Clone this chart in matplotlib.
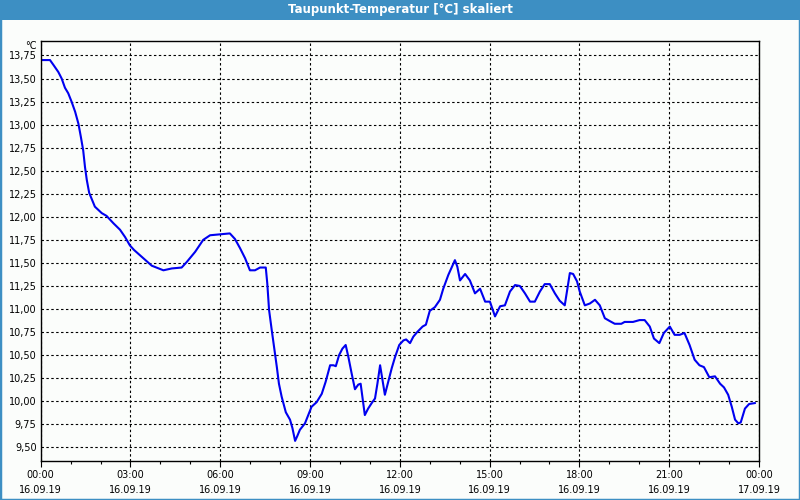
import matplotlib
matplotlib.use('Agg')
import matplotlib.pyplot as plt
from matplotlib.patches import Rectangle
from matplotlib.ticker import MultipleLocator

# Stunden seit 16.09.19 00:00
stunden = [0.00, 0.31, 0.42, 0.59, 0.70, 0.81, 0.92, 1.03, 1.15, 1.26, 1.34, 1.42, 1.48, 1.54, 1.62,
           1.81, 2.04, 2.20, 2.43, 2.65, 2.82, 2.98, 3.12, 3.43, 3.71, 4.10, 4.38, 4.71, 4.88, 5.16,
           5.43, 5.66, 5.99, 6.32, 6.49, 6.66, 6.83, 6.99, 7.16, 7.33, 7.52, 7.57, 7.63, 7.72, 7.81,
           7.89, 7.96, 8.05, 8.19, 8.33, 8.41, 8.50, 8.57, 8.66, 8.83, 8.94, 9.05, 9.22, 9.39, 9.52,
           9.67, 9.78, 9.86, 9.97, 10.08, 10.19, 10.28, 10.39, 10.50, 10.61, 10.69, 10.74, 10.83,
           10.94, 11.06, 11.17, 11.25, 11.34, 11.42, 11.50, 11.61, 11.73, 11.84, 11.98, 12.12, 12.21,
           12.34, 12.45, 12.58, 12.76, 12.87, 13.00, 13.17, 13.34, 13.45, 13.62, 13.73, 13.84, 13.92,
           14.01, 14.18, 14.34, 14.51, 14.68, 14.85, 15.01, 15.18, 15.35, 15.51, 15.68, 15.85, 16.01,
           16.18, 16.35, 16.51, 16.68, 16.84, 17.01, 17.18, 17.34, 17.51, 17.68, 17.79, 17.92, 18.01,
           18.18, 18.35, 18.52, 18.68, 18.85, 19.01, 19.18, 19.40, 19.51, 19.79, 20.01, 20.18, 20.35,
           20.49, 20.67, 20.82, 21.02, 21.18, 21.35, 21.51, 21.68, 21.85, 22.01, 22.16, 22.34, 22.53,
           22.70, 22.83, 22.97, 23.09, 23.20, 23.31, 23.39, 23.53, 23.67, 23.86]

taupunkt = [13.70, 13.70, 13.65, 13.57, 13.50, 13.40, 13.34, 13.25, 13.14, 13.01, 12.87, 12.72, 12.54,
            12.40, 12.26, 12.11, 12.04, 12.01, 11.93, 11.86, 11.78, 11.69, 11.64, 11.55, 11.47, 11.42,
            11.44, 11.45, 11.51, 11.62, 11.75, 11.80, 11.81, 11.82, 11.76, 11.66, 11.55, 11.42, 11.42,
            11.45, 11.45, 11.28, 10.99, 10.77, 10.56, 10.37, 10.19, 10.05, 9.88, 9.80, 9.71, 9.57,
            9.62, 9.69, 9.76, 9.85, 9.94, 9.99, 10.08, 10.21, 10.39, 10.39, 10.38, 10.50, 10.57, 10.61,
            10.48, 10.30, 10.13, 10.18, 10.19, 10.07, 9.85, 9.92, 9.98, 10.03, 10.19, 10.39, 10.23,
            10.07, 10.21, 10.36, 10.48, 10.61, 10.66, 10.67, 10.63, 10.70, 10.75, 10.81, 10.83, 10.98,
            11.02, 11.10, 11.22, 11.37, 11.45, 11.53, 11.46, 11.31, 11.38, 11.31, 11.17, 11.22, 11.08,
            11.08, 10.92, 11.03, 11.04, 11.19, 11.26, 11.25, 11.17, 11.08, 11.08, 11.19, 11.27, 11.27,
            11.17, 11.09, 11.04, 11.39, 11.38, 11.30, 11.19, 11.04, 11.06, 11.10, 11.04, 10.90, 10.87,
            10.84, 10.84, 10.86, 10.86, 10.88, 10.88, 10.81, 10.68, 10.63, 10.74, 10.81, 10.72, 10.72,
            10.74, 10.61, 10.45, 10.39, 10.37, 10.26, 10.27, 10.19, 10.15, 10.07, 9.94, 9.80, 9.76,
            9.77, 9.92, 9.97, 9.98]

zeit_labels = ['00:00', '03:00', '06:00', '09:00', '12:00', '15:00', '18:00', '21:00', '00:00']
datum_labels = ['16.09.19'] * 8 + ['17.09.19']
y_ticks = [9.50, 9.75, 10.00, 10.25, 10.50, 10.75, 11.00, 11.25, 11.50, 11.75,
           12.00, 12.25, 12.50, 12.75, 13.00, 13.25, 13.50, 13.75]

blau = '#3d8fc3'
fig = plt.figure(figsize=(8, 5), dpi=100, facecolor='#fbfdfb')

# Rahmen und Titelleiste
fig.patches.append(Rectangle((0, 0), 1, 1, transform=fig.transFigure, fill=False,
                             edgecolor=blau, linewidth=2.5))
fig.patches.append(Rectangle((0, 1 - 20 / 500), 1, 20 / 500, transform=fig.transFigure,
                             facecolor=blau, edgecolor='none'))
fig.text(0.5, 1 - 10 / 500, 'Taupunkt-Temperatur [°C] skaliert', color='white',
         fontsize=8.5, fontweight='bold', ha='center', va='center')

ax = fig.add_axes([40.7 / 800, 39.3 / 500, 718.3 / 800, 420 / 500])
ax.set_facecolor('#fbfdfb')
ax.plot(stunden, taupunkt, color='#0000f0', linewidth=1.5)

ax.set_xlim(0, 24)
ax.set_ylim(9.355, 13.91)
ax.set_xticks(range(0, 25, 3))
ax.set_xticklabels([z + '\n' + d for z, d in zip(zeit_labels, datum_labels)], linespacing=1.7)
ax.xaxis.set_minor_locator(MultipleLocator(1))
ax.set_yticks(y_ticks)
ax.set_yticklabels([f'{v:.2f}'.replace('.', ',') for v in y_ticks])

ax.tick_params(axis='x', which='major', direction='out', length=4, width=0.8, labelsize=7, pad=2.5)
ax.tick_params(axis='x', which='minor', direction='out', length=2.5, width=0.8)
ax.tick_params(axis='y', length=0, labelsize=7, pad=3)
ax.grid(True, which='major', color='black', linewidth=0.8, linestyle=(0, (2.2, 2.2)))
for s in ax.spines.values():
    s.set_linewidth(1.0)

fig.text(37 / 800, 1 - 46 / 500, '°C', fontsize=7, ha='right', va='center')

fig.savefig('out.png', dpi=100, facecolor=fig.get_facecolor())
